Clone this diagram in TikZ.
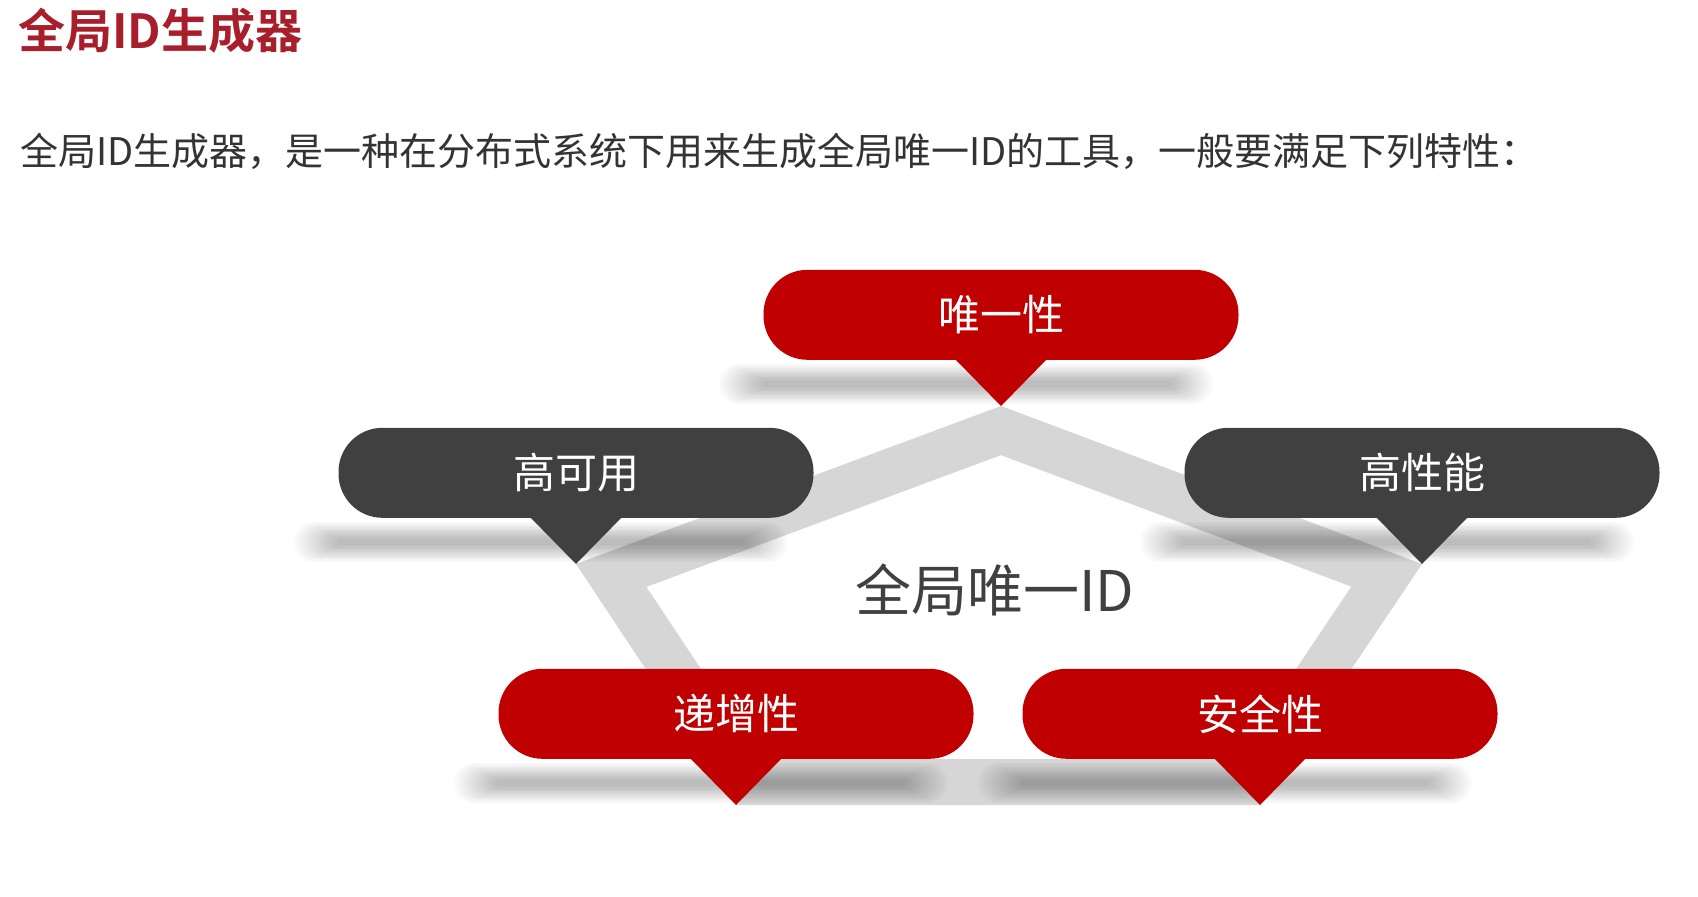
\documentclass[tikz,border=0pt]{standalone}
\usepackage{fontspec}
\setmainfont{Noto Sans CJK SC}[BoldFont={Noto Sans CJK SC Bold}]
\usepackage{tikz}
\usetikzlibrary{positioning,calc}
\definecolor{idred}{RGB}{192,0,0}
\definecolor{iddark}{RGB}{64,64,64}
\definecolor{idtitle}{RGB}{168,30,42}
\definecolor{idtext}{RGB}{51,51,51}
\definecolor{idband}{RGB}{214,214,214}

\begin{document}
\begin{tikzpicture}[x=1pt, y=-1pt,
  bubble/.style={rounded corners=44pt, minimum width=475pt,
    minimum height=90pt, inner sep=0pt, text=white,
    font=\fontsize{42}{50}\selectfont},
  redbub/.style={bubble, fill=idred},
  darkbub/.style={bubble, fill=iddark}]
  \fill[white] (0,0) rectangle (1698,897);
  \useasboundingbox (0,0) rectangle (1698,897);
  % headings
  \node[anchor=west, inner sep=0pt, text=idtitle,
    font=\fontsize{47}{52}\selectfont\bfseries] (title) at (18,31) {全局ID生成器};
  \node[anchor=west, inner sep=0pt, text=idtext,
    font=\fontsize{38}{44}\selectfont] (intro) at (20,151)
    {全局ID生成器，是一种在分布式系统下用来生成全局唯一ID的工具，一般要满足下列特性：};
  % tips of the five bubbles
  \coordinate (uniq-tip) at (1001,406);
  \coordinate (avail-tip) at (576,564);
  \coordinate (perf-tip) at (1422,564);
  \coordinate (incr-tip) at (736,805);
  \coordinate (safe-tip) at (1260,805);
  % grey band
  \begin{scope}
    \clip (uniq-tip) -- (avail-tip) -- (incr-tip) -- (safe-tip) -- (perf-tip) -- cycle;
    \draw[idband, line width=92pt]
      (uniq-tip) -- (avail-tip) -- (incr-tip) -- (safe-tip) -- (perf-tip) -- cycle;
  \end{scope}
  % soft shadows
  \foreach \t in {uniq,avail,perf,incr,safe}
    \foreach \s in {0,...,13}
      \draw[black, opacity=0.018, line cap=round, line width={40pt-2.6pt*\s}]
        ($(\t-tip)+(-262+2*\s,-22)$) -- ($(\t-tip)+(192-2*\s,-22)$);
  % bubbles
  \node[redbub, above=46pt of uniq-tip] (uniq) {唯一性};
  \node[darkbub, above=46pt of avail-tip] (avail) {高可用};
  \node[darkbub, above=46pt of perf-tip] (perf) {高性能};
  \node[redbub, above=46pt of incr-tip] (incr) {递增性};
  \node[redbub, above=46pt of safe-tip] (safe) {安全性};
  \foreach \b/\col in {uniq/idred, avail/iddark, perf/iddark, incr/idred, safe/idred}
    \fill[\col] ($(\b.south)+(-46,-1)$) -- (\b-tip) -- ($(\b.south)+(46,-1)$) -- cycle;
  \node[text=iddark, font=\fontsize{56}{62}\selectfont] (core) at (995,590) {全局唯一ID};
\end{tikzpicture}
\end{document}
